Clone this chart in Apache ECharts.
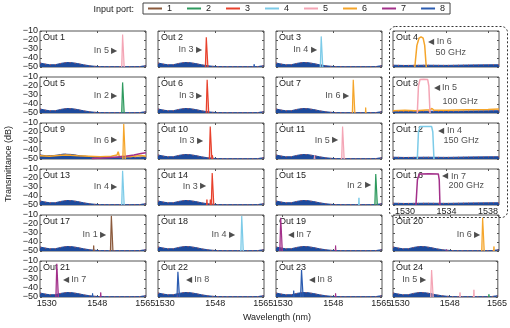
<!DOCTYPE html>
<html><head><meta charset="utf-8">
<script src="https://cdn.jsdelivr.net/npm/echarts@6/dist/echarts.min.js"></script>
<style>html,body{margin:0;padding:0;background:#fff}#c{width:510px;height:328px}</style>
</head><body><div id="c"></div>
<script>
// ---------- data ----------
const ports = ['1','2','3','4','5','6','7','8'];
const portColors = ['#8b5a3c','#2e9a5e','#e8412c','#7ccbe8','#f4a5b5','#f5a52a','#a3308a','#2c5cb0'];
const wideRange = [1527.6, 1565.3];
const zoomRange = [1528.85, 1539.05];
const wideTicks = [1530, 1548, 1565];
const zoomTicks = [1530, 1534, 1538];

// blue noise floor (wide panels)
const floorWl = [1527.6, 1529, 1531, 1533, 1535, 1537, 1539, 1541, 1543, 1545, 1547, 1549, 1552, 1556, 1560, 1563, 1564.5, 1565.3];
const floorDb = [-45.5, -46.5, -47.5, -47.5, -46, -45, -45.2, -46.2, -47.5, -48.5, -49.2, -49.6, -49.7, -49.7, -49.7, -49.6, -48.8, -48.5];
// blue noise floor (zoomed panels)
const zoomFloorWl = [1528.85, 1530, 1532, 1534, 1536, 1538, 1539.05];
const zoomFloorDb = [-48, -48.3, -48, -48.2, -47.8, -47.6, -47.5];
// Out 9 extras
const floor9Wl = [1527.6, 1530, 1533, 1536, 1539, 1542, 1546, 1550, 1555, 1560, 1565.3];
const floor9Db = [-45.5, -46.5, -46, -44.5, -45, -46.5, -47.5, -48, -48.5, -48.5, -47.5];
const orange9Wl = [1527.6, 1531, 1534, 1537, 1541, 1545, 1549, 1553, 1555, 1555.4, 1555.8, 1558, 1561, 1563.5, 1565.3];
const orange9Db = [-46.5, -47, -46, -45.5, -46.5, -47, -47.5, -47, -45.5, -42, -47, -47.5, -47, -46, -47];
const purple9Wl = [1546, 1550, 1554, 1558, 1561, 1563.5, 1565.3];
const purple9Db = [-49.5, -49, -48, -47, -45.5, -44, -43];
// Out 8 orange floor
const orange8Wl = [1528.85, 1530, 1531, 1532.4, 1532.6, 1532.8, 1534, 1536, 1538, 1539.05];
const orange8Db = [-47.5, -47, -47.5, -46.5, -45, -47, -47, -46.5, -46, -45.5];

const panelNames = ['Out 1','Out 2','Out 3','Out 4','Out 5','Out 6','Out 7','Out 8','Out 9','Out 10','Out 11','Out 12',
  'Out 13','Out 14','Out 15','Out 16','Out 17','Out 18','Out 19','Out 20','Out 21','Out 22','Out 23','Out 24'];
const panelPort = [5,3,4,6, 2,3,6,5, 6,3,5,4, 4,3,2,7, 1,4,7,6, 7,8,8,5];
const zoomPanels = [4, 8, 12, 16];
// narrow peaks (wide panels): centre wavelength and top level
const peakWl = [1557.1, 1544.9, 1543.8, null, 1557.1, 1545.2, 1555.2, null, 1557.5, 1546.3, 1551.4, null,
  1557.1, 1547.0, 1563.2, null, 1553.1, 1557.5, 1529.4, 1559.6, 1533.7, 1534.8, 1536.8, 1541.6];
const peakDb = [-14, -17, -16, null, -16, -13, -13, null, -11, -14, -14, null,
  -12, -14.5, -15.5, null, -11, -11, -13, -13, -13, -22, -20, -20];
const peakBaseHalf = 0.45, peakTopHalf = 0.12;
// passbands (zoomed panels)
const band4Wl = [1530.95, 1531.15, 1531.35, 1531.55, 1531.75, 1531.9, 1532.05];
const band4Db = [-50, -26, -18, -16.5, -18, -26, -50];
const band8Wl = [1531.19, 1531.3, 1531.45, 1531.8, 1532.19, 1532.3, 1532.41];
const band8Db = [-50, -20, -12.8, -12.5, -12.8, -20, -50];
const band12Wl = [1531.19, 1531.3, 1531.45, 1532.0, 1532.57, 1532.68, 1532.79];
const band12Db = [-50, -20, -14, -13.8, -14, -20, -50];
const band16Wl = [1531.06, 1531.2, 1531.38, 1532.3, 1533.21, 1533.3, 1533.37];
const band16Db = [-50, -22, -15.5, -15.2, -15.5, -22, -50];
// small spurs
const spurPanel = [2, 7, 10, 11, 14, 14, 15, 17, 19, 20, 20, 21, 21, 22, 23, 23, 24, 24, 24];
const spurPort  = [8, 6, 3, 5, 3, 3, 4, 1, 7, 6, 7, 8, 7, 7, 8, 7, 5, 5, 2];
const spurWl = [1561.8, 1559.5, 1547.0, 1541.3, 1545.0, 1546.2, 1557.1, 1546.7, 1548.8, 1563.5, 1546.6, 1546.3, 1549.2, 1534.6, 1533.9, 1548.8, 1551.7, 1556.7, 1562.1];
const spurDb = [-47, -44, -46, -46, -44, -44, -42, -44, -44, -45, -48, -46, -45, -48, -43, -46, -45, -42, -47];
// annotations
const annPanel = [1,2,3,4,4,5,6,7,8,8,9,10,11,12,12,13,14,15,16,16,17,18,19,20,21,22,23,24];
const annText = ['In 5 ▶','In 3 ▶','In 4 ▶','◀ In 6','50 GHz','In 2 ▶','In 3 ▶','In 6 ▶','◀ In 5','100 GHz','In 6 ▶','In 3 ▶','In 5 ▶',
  '◀ In 4','150 GHz','In 4 ▶','In 3 ▶','In 2 ▶','◀ In 7','200 GHz','In 1 ▶','In 4 ▶','◀ In 7','In 6 ▶','◀ In 7','◀ In 8','◀ In 8','In 5 ▶'];
const annWl = [1555.3,1543.4,1542.3,1532.2,1532.9,1555.3,1543.6,1553.7,1532.7,1533.56,1555.3,1543.8,1549.9,
  1533.18,1533.66,1555.3,1544.9,1561.4,1533.56,1534.14,1551.3,1555.2,1531.6,1558.8,1535.5,1537.3,1539.1,1539.6];
const annDb = [-32,-31,-31,-22,-34,-31,-31,-31,-22,-36.7,-29,-30,-29,-18.5,-29,-30,-29,-28,-17.8,-27.8,-32,-32,-32,-32,-31,-31,-31,-31];

// ---------- layout ----------
const FONT = '"Liberation Sans", Arial, sans-serif';
const colLeft = [40, 158, 276, 393], colW = 106;
const rowTop = [31, 77, 123, 169, 215, 261], rowH = 36;
const floorBlue = '#1d4a9c';

const grids = [], xAxes = [], yAxes = [], series = [];
const pairs = (a, b) => a.map((v, k) => [v, b[k]]);
const minusFmt = v => String(v).replace('-', '\u2212');
const plainFmt = v => String(v);

for (let i = 0; i < 24; i++) {
  const r = Math.floor(i / 4), c = i % 4, n = i + 1;
  const isZoom = zoomPanels.includes(n);
  const xr = isZoom ? zoomRange : wideRange, xt = isZoom ? zoomTicks : wideTicks;
  grids.push({left: colLeft[c], top: rowTop[r], width: colW, height: rowH, show: true,
    borderColor: '#555', borderWidth: 1, backgroundColor: 'transparent'});
  const tick = {show: true, inside: true, length: 2, lineStyle: {color: '#555', width: 1}};
  xAxes.push({type: 'value', gridIndex: i, min: xr[0], max: xr[1], axisLine: {show: false}, splitLine: {show: false},
    axisTick: Object.assign({customValues: xt}, tick),
    axisLabel: {show: r === 5 || n === 16, customValues: xt, fontSize: 9, color: '#222', margin: 2, fontFamily: FONT, formatter: plainFmt}});
  xAxes.push({type: 'value', gridIndex: i, position: 'top', min: xr[0], max: xr[1], axisLine: {show: false}, splitLine: {show: false},
    axisTick: Object.assign({customValues: xt}, tick), axisLabel: {show: false}});
  yAxes.push({type: 'value', gridIndex: i, min: -50, max: -10, interval: 10, axisLine: {show: false}, splitLine: {show: false},
    axisTick: tick, axisLabel: {show: c === 0, fontSize: 9, color: '#222', margin: 2, fontFamily: FONT, formatter: minusFmt}});
  yAxes.push({type: 'value', gridIndex: i, position: 'right', min: -50, max: -10, interval: 10, axisLine: {show: false},
    splitLine: {show: false}, axisTick: tick, axisLabel: {show: false}});
  const xi = 2 * i, yi = 2 * i;
  const base = {type: 'line', xAxisIndex: xi, yAxisIndex: yi, symbol: 'none', silent: true, animation: false};
  let fl;
  if (isZoom) fl = pairs(zoomFloorWl, zoomFloorDb);
  else if (n === 9) fl = pairs(floor9Wl, floor9Db);
  else fl = pairs(floorWl, floorDb);
  series.push(Object.assign({}, base, {name: 'floor', data: fl, itemStyle: {color: floorBlue}, lineStyle: {color: floorBlue, width: 1},
    areaStyle: {color: floorBlue, opacity: 1, origin: 'start'}}));
  series.push(Object.assign({}, base, {name: 'floorDots', data: fl, itemStyle: {color: '#e0503c'},
    lineStyle: {color: '#e0503c', width: 1, type: [1, 4], opacity: 0.85}}));
  if (n === 9) {
    series.push(Object.assign({}, base, {name: 'o9', data: pairs(orange9Wl, orange9Db), itemStyle: {color: portColors[5]}, lineStyle: {color: portColors[5], width: 1.5}}));
    series.push(Object.assign({}, base, {name: 'p9', data: pairs(purple9Wl, purple9Db), itemStyle: {color: portColors[6]}, lineStyle: {color: portColors[6], width: 1.5}}));
  }
  if (n === 8) {
    series.push(Object.assign({}, base, {name: 'o8', data: pairs(orange8Wl, orange8Db), itemStyle: {color: portColors[5]}, lineStyle: {color: portColors[5], width: 1.5}}));
  }
  spurPanel.forEach((p, k) => {
    if (p !== n) return;
    const w = spurWl[k], col = portColors[spurPort[k] - 1];
    series.push(Object.assign({}, base, {name: ports[spurPort[k] - 1],
      data: [[w - 0.15, -50], [w, spurDb[k]], [w + 0.15, -50]],
      itemStyle: {color: col}, lineStyle: {color: col, width: 1}}));
  });
  const pc = portColors[panelPort[i] - 1], pn = ports[panelPort[i] - 1];
  if (isZoom) {
    const bw = {4: band4Wl, 8: band8Wl, 12: band12Wl, 16: band16Wl}[n];
    const bd = {4: band4Db, 8: band8Db, 12: band12Db, 16: band16Db}[n];
    series.push(Object.assign({}, base, {name: pn, data: pairs(bw, bd), itemStyle: {color: pc}, lineStyle: {color: pc, width: 1.5}}));
  } else {
    const w = peakWl[i], d = peakDb[i];
    series.push(Object.assign({}, base, {name: pn,
      data: [[w - peakBaseHalf, -50], [w - peakTopHalf, d], [w + peakTopHalf, d], [w + peakBaseHalf, -50]],
      itemStyle: {color: pc}, lineStyle: {color: pc, width: 1.2}, areaStyle: {color: pc, opacity: 0.35, origin: 'start'}}));
  }
  annPanel.forEach((p, k) => {
    if (p !== n) return;
    const t = annText[k];
    const leftSide = t.endsWith('▶');
    const rich = t.replace('▶', '{t|▶}').replace('◀', '{t|◀}');
    series.push({type: 'scatter', xAxisIndex: xi, yAxisIndex: yi, silent: true, animation: false,
      symbolSize: 1, itemStyle: {color: 'transparent'}, data: [[annWl[k], annDb[k]]],
      label: {show: true, position: leftSide ? 'left' : 'right', distance: 0, formatter: rich,
        fontSize: 9, color: '#222', fontFamily: FONT, rich: {t: {fontSize: 8, color: '#222'}}}});
  });
}

const graphics = [];
for (let i = 0; i < 24; i++) {
  const r = Math.floor(i / 4), c = i % 4;
  graphics.push({type: 'text', left: colLeft[c] + 3, top: rowTop[r] + 2, silent: true,
    style: {text: panelNames[i], fontSize: 9, fill: '#222', fontFamily: FONT}});
}
graphics.push({type: 'rect', left: 387, top: 24, shape: {width: 118, height: 191, r: 6}, silent: true,
  style: {fill: 'none', stroke: '#333', lineWidth: 1, lineDash: [2, 2]}});
graphics.push({type: 'text', x: 134, y: 10, silent: true,
  style: {text: 'Input port:', fontSize: 9, fill: '#222', fontFamily: FONT, textAlign: 'right', textVerticalAlign: 'middle'}});
graphics.push({type: 'text', x: 9, y: 164, rotation: Math.PI / 2, silent: true,
  style: {text: 'Transmittance (dB)', fontSize: 9, fill: '#222', fontFamily: FONT, textAlign: 'center', textVerticalAlign: 'middle'}});
graphics.push({type: 'text', x: 277, y: 318, silent: true,
  style: {text: 'Wavelength (nm)', fontSize: 9, fill: '#222', fontFamily: FONT, textAlign: 'center', textVerticalAlign: 'middle'}});

const chart = echarts.init(document.getElementById('c'), null, {renderer: 'canvas'});
chart.setOption({
  animation: false,
  color: portColors,
  legend: {data: ports, left: 143, top: 3, padding: [1, 5], itemGap: 15, itemWidth: 14, itemHeight: 2, icon: 'rect',
    borderColor: '#444', borderWidth: 1, selectedMode: false,
    textStyle: {fontSize: 9, color: '#222', fontFamily: FONT}},
  grid: grids, xAxis: xAxes, yAxis: yAxes, series: series, graphic: graphics
});
</script></body></html>
